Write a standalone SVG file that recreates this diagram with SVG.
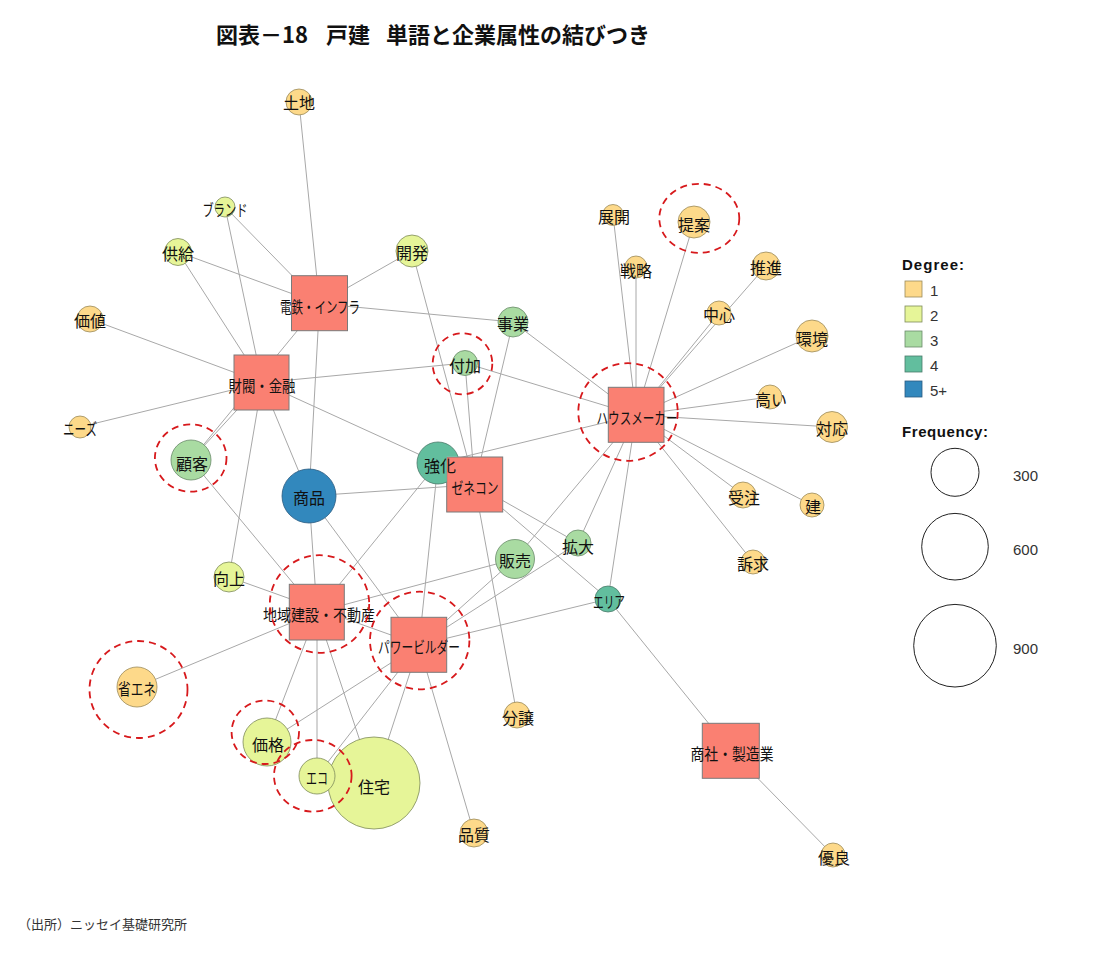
<svg xmlns="http://www.w3.org/2000/svg" width="1100" height="960" viewBox="0 0 1100 960">
<style>
text{font-family:"Noto Sans CJK JP","Noto Sans",sans-serif;}
.lbl{font-size:16px;fill:#111;text-anchor:middle;dominant-baseline:central;}
.co{fill:#FA8072;stroke:#7a7a7a;stroke-width:1;}
.d1{fill:#FDD98A;stroke:#9a8a5a;stroke-width:0.8;}
.d2{fill:#E6F598;stroke:#7d8a5a;stroke-width:0.8;}
.d3{fill:#A9DBA2;stroke:#6a8a6a;stroke-width:0.8;}
.d4{fill:#62BE9E;stroke:#4a7a6a;stroke-width:0.8;}
.d5{fill:#3288BD;stroke:#2a5a80;stroke-width:0.8;}
.ring{fill:none;stroke:#D7191C;stroke-width:1.8;stroke-dasharray:7 5;}
.leg{font-family:"Liberation Sans",Arial,sans-serif;font-size:15px;fill:#333;}
.legh{font-family:"Liberation Sans",Arial,sans-serif;font-size:15px;font-weight:bold;fill:#111;}
.fc{fill:none;stroke:#222;stroke-width:1;}
</style>
<defs>
<clipPath id="clipKyoka"><path clip-rule="evenodd" d="M400 430H520V520H400Z M446.7 456.7H502.7V512.7H446.7Z"/></clipPath>
</defs>
<rect width="1100" height="960" fill="#fff"/>
<text x="216" y="43" font-size="22" font-weight="bold" fill="#111"><tspan x="216">図表－18</tspan><tspan x="326">戸建</tspan><tspan x="386">単語と企業属性の結びつき</tspan></text>

<g id="edges" stroke="#a8a8a8" stroke-width="1" fill="none">
<line x1="319.5" y1="303.7" x2="299" y2="102"/>
<line x1="319.5" y1="303.7" x2="225" y2="207"/>
<line x1="319.5" y1="303.7" x2="178" y2="252"/>
<line x1="319.5" y1="303.7" x2="412" y2="251"/>
<line x1="319.5" y1="303.7" x2="513" y2="322"/>
<line x1="319.5" y1="303.7" x2="309" y2="496"/>
<line x1="319.5" y1="303.7" x2="191" y2="460"/>
<line x1="262" y1="382.7" x2="225" y2="207"/>
<line x1="262" y1="382.7" x2="178" y2="252"/>
<line x1="262" y1="382.7" x2="90" y2="319"/>
<line x1="262" y1="382.7" x2="80" y2="427"/>
<line x1="262" y1="382.7" x2="465" y2="363"/>
<line x1="262" y1="382.7" x2="191" y2="460"/>
<line x1="262" y1="382.7" x2="229" y2="577"/>
<line x1="262" y1="382.7" x2="309" y2="496"/>
<line x1="262" y1="382.7" x2="438" y2="463"/>
<line x1="474.7" y1="484.7" x2="412" y2="251"/>
<line x1="474.7" y1="484.7" x2="465" y2="363"/>
<line x1="474.7" y1="484.7" x2="513" y2="322"/>
<line x1="474.7" y1="484.7" x2="309" y2="496"/>
<line x1="474.7" y1="484.7" x2="578" y2="543"/>
<line x1="474.7" y1="484.7" x2="608" y2="599"/>
<line x1="474.7" y1="484.7" x2="517" y2="715"/>
<line x1="636" y1="415" x2="513" y2="322"/>
<line x1="636" y1="415" x2="465" y2="363"/>
<line x1="636" y1="415" x2="438" y2="463"/>
<line x1="636" y1="415" x2="613" y2="215"/>
<line x1="636" y1="415" x2="636" y2="269"/>
<line x1="636" y1="415" x2="694" y2="222"/>
<line x1="636" y1="415" x2="766" y2="266"/>
<line x1="636" y1="415" x2="719" y2="313"/>
<line x1="636" y1="415" x2="812" y2="336"/>
<line x1="636" y1="415" x2="770" y2="397"/>
<line x1="636" y1="415" x2="832" y2="427"/>
<line x1="636" y1="415" x2="743" y2="495"/>
<line x1="636" y1="415" x2="812" y2="505"/>
<line x1="636" y1="415" x2="753" y2="562"/>
<line x1="636" y1="415" x2="515" y2="559"/>
<line x1="636" y1="415" x2="578" y2="543"/>
<line x1="636" y1="415" x2="608" y2="599"/>
<line x1="317" y1="612" x2="191" y2="460"/>
<line x1="317" y1="612" x2="309" y2="496"/>
<line x1="317" y1="612" x2="438" y2="463"/>
<line x1="317" y1="612" x2="515" y2="559"/>
<line x1="317" y1="612" x2="137" y2="687"/>
<line x1="317" y1="612" x2="267" y2="742"/>
<line x1="317" y1="612" x2="317" y2="776"/>
<line x1="317" y1="612" x2="374" y2="783"/>
<line x1="419" y1="645" x2="309" y2="496"/>
<line x1="419" y1="645" x2="438" y2="463"/>
<line x1="419" y1="645" x2="515" y2="559"/>
<line x1="419" y1="645" x2="578" y2="543"/>
<line x1="419" y1="645" x2="608" y2="599"/>
<line x1="419" y1="645" x2="229" y2="577"/>
<line x1="419" y1="645" x2="267" y2="742"/>
<line x1="419" y1="645" x2="317" y2="776"/>
<line x1="419" y1="645" x2="374" y2="783"/>
<line x1="419" y1="645" x2="474" y2="833"/>
<line x1="731" y1="751" x2="608" y2="599"/>
<line x1="731" y1="751" x2="833" y2="855"/>
</g>

<g id="nodes">
<g id="w_tochi"><circle class="d1" cx="299" cy="102" r="13"/><text class="lbl" x="299" y="102">土地</text></g>
<g id="w_brand"><circle class="d2" cx="225" cy="207" r="10"/><text class="lbl" x="225" y="209" textLength="45" lengthAdjust="spacingAndGlyphs">ブランド</text></g>
<g id="w_kyokyu"><circle class="d2" cx="178" cy="252" r="13.5"/><text class="lbl" x="178" y="253">供給</text></g>
<g id="w_kaihatsu"><circle class="d2" cx="412" cy="251" r="16"/><text class="lbl" x="412" y="252">開発</text></g>
<g id="w_jigyo"><circle class="d3" cx="513" cy="322" r="15"/><text class="lbl" x="513" y="323">事業</text></g>
<g id="w_fuka"><circle class="d3" cx="465" cy="363" r="12.5"/><text class="lbl" x="465" y="365">付加</text></g>
<g id="w_kachi"><circle class="d1" cx="90" cy="319" r="13"/><text class="lbl" x="90" y="320">価値</text></g>
<g id="w_needs"><circle class="d1" cx="80" cy="427" r="11"/><text class="lbl" x="80" y="428" textLength="34" lengthAdjust="spacingAndGlyphs">ニーズ</text></g>
<g id="w_kokyaku"><circle class="d3" cx="191" cy="460" r="20"/><text class="lbl" x="192" y="463">顧客</text></g>
<g id="w_shohin"><circle class="d5" cx="309" cy="496" r="27"/><text class="lbl" x="309" y="497">商品</text></g>
<g id="w_kojo"><circle class="d2" cx="229" cy="577" r="15"/><text class="lbl" x="229" y="578">向上</text></g>
<g id="w_shoene"><circle class="d1" cx="137" cy="687" r="20"/><text class="lbl" x="137" y="688" textLength="38" lengthAdjust="spacingAndGlyphs">省エネ</text></g>
<g id="w_kakaku"><circle class="d2" cx="267" cy="742" r="24"/><text class="lbl" x="268" y="744">価格</text></g>
<g id="w_jutaku"><circle class="d2" cx="374" cy="783" r="46"/><text class="lbl" x="374" y="786">住宅</text></g>
<g id="w_eco"><circle class="d2" cx="317" cy="776" r="18"/><text class="lbl" x="317" y="777" textLength="22" lengthAdjust="spacingAndGlyphs">エコ</text></g>
<g id="w_hinshitsu"><circle class="d1" cx="474" cy="833" r="14"/><text class="lbl" x="474" y="834">品質</text></g>
<g id="w_bunjo"><circle class="d1" cx="517" cy="715" r="13"/><text class="lbl" x="518" y="717">分譲</text></g>
<g id="w_hanbai"><circle class="d3" cx="515" cy="559" r="19.5"/><text class="lbl" x="515" y="560">販売</text></g>
<g id="w_kakudai"><circle class="d3" cx="578" cy="543" r="13"/><text class="lbl" x="578" y="546">拡大</text></g>
<g id="w_area"><circle class="d4" cx="608" cy="599" r="13"/><text class="lbl" x="609" y="601" textLength="32" lengthAdjust="spacingAndGlyphs">エリア</text></g>
<g id="w_tenkai"><circle class="d1" cx="613" cy="215" r="10.5"/><text class="lbl" x="614" y="216">展開</text></g>
<g id="w_teian"><circle class="d1" cx="694" cy="222" r="16"/><text class="lbl" x="694" y="224">提案</text></g>
<g id="w_senryaku"><circle class="d1" cx="636" cy="267" r="11"/><text class="lbl" x="636" y="270">戦略</text></g>
<g id="w_suishin"><circle class="d1" cx="766" cy="266" r="14"/><text class="lbl" x="766" y="267">推進</text></g>
<g id="w_chushin"><circle class="d1" cx="719" cy="313" r="12"/><text class="lbl" x="719" y="314">中心</text></g>
<g id="w_kankyo"><circle class="d1" cx="812" cy="336" r="16"/><text class="lbl" x="812" y="338">環境</text></g>
<g id="w_takai"><circle class="d1" cx="770" cy="397" r="12"/><text class="lbl" x="771" y="399">高い</text></g>
<g id="w_taio"><circle class="d1" cx="832" cy="427" r="15.5"/><text class="lbl" x="832" y="428">対応</text></g>
<g id="w_juchu"><circle class="d1" cx="743" cy="495" r="13"/><text class="lbl" x="744" y="497">受注</text></g>
<g id="w_ken"><circle class="d1" cx="812" cy="505" r="12"/><text class="lbl" x="813" y="506">建</text></g>
<g id="w_sokyu"><circle class="d1" cx="753" cy="562" r="12"/><text class="lbl" x="753" y="563">訴求</text></g>
<g id="w_yuryo"><circle class="d1" cx="833" cy="855" r="12"/><text class="lbl" x="834" y="857">優良</text></g>

<g id="c_denki"><rect class="co" x="291.5" y="275.7" width="56" height="55"/><text class="lbl" x="320" y="306" textLength="80" lengthAdjust="spacingAndGlyphs">電鉄・インフラ</text></g>
<g id="c_zaibatsu"><rect class="co" x="234" y="355" width="55" height="55"/><text class="lbl" x="262" y="385" textLength="67" lengthAdjust="spacingAndGlyphs">財閥・金融</text></g>
<g id="c_zenecon"><rect class="co" x="446.7" y="457" width="56" height="55"/><text class="lbl" x="475" y="487" textLength="47" lengthAdjust="spacingAndGlyphs">ゼネコン</text></g>
<g id="w_kyoka"><circle class="d4" cx="438" cy="463" r="21" clip-path="url(#clipKyoka)"/><text class="lbl" x="440" y="465">強化</text></g>
<g id="c_house"><rect class="co" x="608.3" y="387.3" width="55.7" height="55"/><text class="lbl" x="637" y="417" textLength="81" lengthAdjust="spacingAndGlyphs">ハウスメーカー</text></g>
<g id="c_chiiki"><rect class="co" x="289.3" y="584.3" width="55" height="55.7"/><text class="lbl" x="319" y="614" textLength="112" lengthAdjust="spacingAndGlyphs">地域建設・不動産</text></g>
<g id="c_power"><rect class="co" x="391" y="617.3" width="55.7" height="55"/><text class="lbl" x="419" y="646" textLength="82" lengthAdjust="spacingAndGlyphs">パワービルダー</text></g>
<g id="c_shosha"><rect class="co" x="702.3" y="723.3" width="57" height="55"/><text class="lbl" x="732" y="753" textLength="83" lengthAdjust="spacingAndGlyphs">商社・製造業</text></g>
</g>

<g id="highlights">
<ellipse class="ring" cx="699.3" cy="218.3" rx="40" ry="34.5"/>
<ellipse class="ring" cx="462.5" cy="363.8" rx="29.8" ry="30.5"/>
<ellipse class="ring" cx="628" cy="412" rx="49.7" ry="48.8"/>
<ellipse class="ring" cx="190.7" cy="458" rx="35.8" ry="33.7"/>
<ellipse class="ring" cx="319.5" cy="604" rx="49.7" ry="48.8"/>
<ellipse class="ring" cx="419.7" cy="640.5" rx="49.7" ry="48.8"/>
<ellipse class="ring" cx="138.5" cy="689.5" rx="49" ry="48.5"/>
<ellipse class="ring" cx="265.3" cy="732.3" rx="33.7" ry="31.7"/>
<ellipse class="ring" cx="312.8" cy="775.8" rx="38.8" ry="35.8"/>
</g>

<g id="legend">
<text class="legh" x="902" y="270" textLength="62">Degree:</text>
<rect class="d1" x="905" y="281" width="17" height="16" stroke="#888" stroke-width="1"/>
<rect class="d2" x="905" y="306" width="17" height="16" stroke="#888" stroke-width="1"/>
<rect class="d3" x="905" y="331" width="17" height="16" stroke="#888" stroke-width="1"/>
<rect class="d4" x="905" y="356" width="17" height="16" stroke="#888" stroke-width="1"/>
<rect class="d5" x="905" y="381" width="17" height="16" stroke="#888" stroke-width="1"/>
<text class="leg" x="930" y="296">1</text>
<text class="leg" x="930" y="321">2</text>
<text class="leg" x="930" y="346">3</text>
<text class="leg" x="930" y="371">4</text>
<text class="leg" x="930" y="396">5+</text>
<text class="legh" x="902" y="437" textLength="86">Frequency:</text>
<circle class="fc" cx="955" cy="472.3" r="24"/>
<circle class="fc" cx="955" cy="546.7" r="33.3"/>
<circle class="fc" cx="955" cy="645.7" r="41.3"/>
<text class="leg" x="1013" y="481">300</text>
<text class="leg" x="1013" y="555">600</text>
<text class="leg" x="1013" y="654">900</text>
</g>

<text x="18" y="929" font-size="13" fill="#333">（出所）ニッセイ基礎研究所</text>
</svg>
